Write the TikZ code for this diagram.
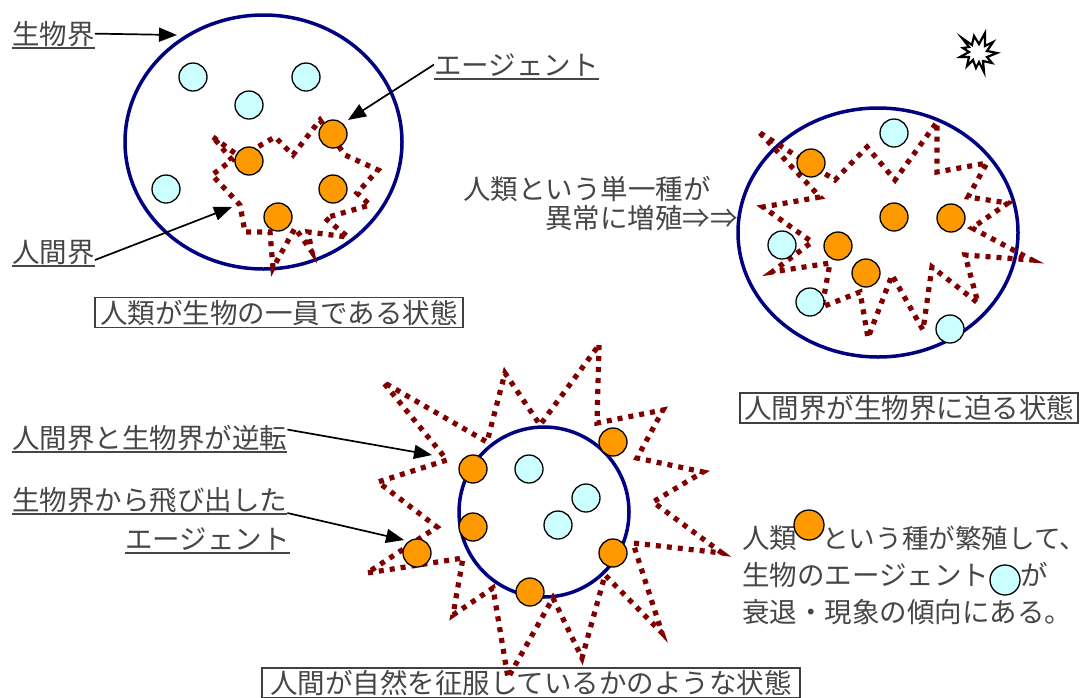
\documentclass[tikz,border=0pt]{standalone}
\usepackage{fontspec}
\setmainfont{Noto Sans CJK JP}
\usetikzlibrary{shapes.geometric,arrows.meta}
\definecolor{navyc}{RGB}{0,0,128}
\definecolor{maroonc}{RGB}{128,0,0}
\definecolor{orangec}{RGB}{255,153,0}
\definecolor{cyanc}{RGB}{204,255,255}
\definecolor{txtc}{RGB}{70,70,70}
\tikzset{
  bio/.style={ellipse, draw=navyc, line width=3.5pt, inner sep=0pt},
  human/.style={circle, draw=black, line width=1.3pt, fill=orangec, minimum size=28pt, inner sep=0pt},
  agent/.style={circle, draw=black, line width=1.3pt, fill=cyanc, minimum size=28pt, inner sep=0pt},
  zig/.style={draw=maroonc, line width=5.2pt, dash pattern=on 5pt off 6pt, line join=miter},
  lbl/.style={inner sep=0pt, text=txtc, font=\fontsize{27.5}{30}\selectfont},
  uline/.style={draw=txtc, line width=1.5pt},
  arr/.style={draw=black, line width=1.7pt, -{Triangle[length=18pt,width=14pt]}},
  statebox/.style={lbl, draw=black!75, line width=1.2pt, minimum height=30pt, inner ysep=0pt}
}
\begin{document}
\begin{tikzpicture}[x=1pt,y=-1pt]
\useasboundingbox (0,0) rectangle (1090,697);

% ---------- top-left: biosphere with human sphere ----------
\node[bio, minimum width=277pt, minimum height=254pt] (bioA) at (263.5,142) {};
\draw[zig] (213,137) -- (240,157) -- (275,137) -- (293,155) -- (320,120) -- (345,155)
  -- (378,170) -- (357,193) -- (370,205) -- (325,218) -- (348,237) -- (308,232)
  -- (312,252) -- (295,228) -- (273,268) -- (270,232) -- (245,232) -- (240,205)
  -- (212,175) -- (232,160) -- cycle;
\node[agent] (a1) at (193,77) {};
\node[agent] (a2) at (306,77) {};
\node[agent] (a3) at (249,105) {};
\node[agent] (a4) at (166,189) {};
\node[human] (h1) at (333,134) {};
\node[human] (h2) at (249,161) {};
\node[human] (h3) at (333,189) {};
\node[human] (h4) at (278,217) {};

\node[lbl, anchor=base west] (L1) at (12,44) {生物界};
\draw[uline] ([yshift=-4pt]L1.base west) -- ([yshift=-4pt]L1.base east);
\coordinate (t1) at (177,35);
\draw[arr] (L1.east) -- (t1);

\node[lbl, anchor=base west] (L2) at (12,262) {人間界};
\draw[uline] ([yshift=-4pt]L2.base west) -- ([yshift=-4pt]L2.base east);
\coordinate (t2) at (232,207);
\draw[arr] ([yshift=2pt]L2.base east) -- (t2);

\node[lbl, anchor=base west] (L3) at (434,75) {エージェント};
\draw[uline] ([yshift=-4pt]L3.base west) -- ([yshift=-4pt]L3.base east);
\coordinate (t3) at (348,120);
\draw[arr] (L3.west) -- (t3);

\node[statebox, inner xsep=5pt, minimum width=368pt] (B1) at (279,312.5) {人類が生物の一員である状態};

% ---------- top-right ----------
\draw[line width=2.2pt, fill=white, line join=miter]
  (962,38) -- (972,45) -- (974,36) -- (979,44) -- (985,33) -- (985,46) -- (993,42)
  -- (987,51) -- (997,53) -- (987,57) -- (992,63) -- (983,61) -- (984,72) -- (979,62)
  -- (976,68) -- (973,60) -- (967,66) -- (969,57) -- (960,57) -- (969,52) -- (963,48)
  -- (969,47) -- cycle;

\node[bio, minimum width=280pt, minimum height=249pt] (bioB) at (878,232.5) {};
\draw[zig] (760,133) -- (835,180) -- (867,147) -- (895,180) -- (937,122) -- (937,172)
  -- (987,163) -- (968,197) -- (1008,203) -- (972,228) -- (1032,260) -- (965,255)
  -- (978,303) -- (932,267) -- (923,330) -- (892,275) -- (868,338) -- (860,292)
  -- (822,307) -- (830,263) -- (772,272) -- (812,242) -- (763,207) -- (820,197) -- cycle;
\node[agent] (b1) at (894,133) {};
\node[agent] (b2) at (782,245) {};
\node[agent] (b3) at (810,302) {};
\node[agent] (b4) at (950,329) {};
\node[human] (g1) at (811,163) {};
\node[human] (g2) at (894,217) {};
\node[human] (g3) at (951,218) {};
\node[human] (g4) at (838,246) {};
\node[human] (g5) at (866,273) {};

\node[lbl, anchor=base west] (R1) at (463,199) {人類という単一種が};
\node[lbl, anchor=base west] (R2) at (545,228) {異常に増殖⇒⇒};

\node[statebox, inner xsep=4pt, minimum width=338pt] (B2) at (909,408) {人間界が生物界に迫る状態};

% ---------- bottom ----------
\node[statebox, inner xsep=7pt, minimum width=538pt] (B3) at (531,683) {人間が自然を征服しているかのような状態};

\node[circle, draw=navyc, line width=3.5pt, minimum size=170pt, inner sep=0pt] (bioC) at (544,512) {};
\draw[zig] (599,345) -- (597,423) -- (663,410) -- (637,458) -- (703,472) -- (653,502)
  -- (722,553) -- (633,543) -- (662,633) -- (605,575) -- (582,658) -- (553,598)
  -- (508,678) -- (493,588) -- (453,615) -- (463,558) -- (367,573) -- (437,527)
  -- (378,482) -- (447,460) -- (383,382) -- (487,442) -- (505,373) -- (540,425) -- cycle;
\node[agent] (c1) at (529,469) {};
\node[agent] (c2) at (586,498) {};
\node[agent] (c3) at (558,525) {};
\node[human] (k1) at (473,469) {};
\node[human] (k2) at (613,442) {};
\node[human] (k3) at (473,527) {};
\node[human] (k4) at (417,553) {};
\node[human] (k5) at (613,553) {};
\node[human] (k6) at (530,592) {};

\node[lbl, anchor=base west] (L4) at (12,448) {人間界と生物界が逆転};
\draw[uline] ([yshift=-4pt]L4.base west) -- ([yshift=-4pt]L4.base east);
\coordinate (t4) at (432,455);
\draw[arr] ([yshift=8pt]L4.east) -- (t4);

\node[lbl, anchor=base west] (L5) at (12,510) {生物界から飛び出した};
\draw[uline] ([yshift=-4pt]L5.base west) -- ([yshift=-4pt]L5.base east);
\node[lbl, anchor=base east] (L6) at (290,549) {エージェント};
\draw[uline] ([yshift=-4pt]L6.base west) -- ([yshift=-4pt]L6.base east);
\coordinate (t5) at (404,540);
\draw[arr] ([yshift=-3pt]L5.base east) -- (t5);

% ---------- legend text ----------
\node[lbl, anchor=base west] (N1) at (742,548) {人類};
\node[human, minimum size=30pt] (nh) at (809,525) {};
\node[lbl, anchor=base west, font=\fontsize{26.6}{30}\selectfont] (N2) at (822,548) {という種が繁殖して、};
\node[lbl, anchor=base west] (N3) at (742,585) {生物のエージェント};
\node[agent, minimum size=30pt] (na) at (1005,580) {};
\node[lbl, anchor=base west] (N4) at (1020,585) {が};
\node[lbl, anchor=base west] (N5) at (742,622) {衰退・現象の傾向にある。};
\end{tikzpicture}
\end{document}
